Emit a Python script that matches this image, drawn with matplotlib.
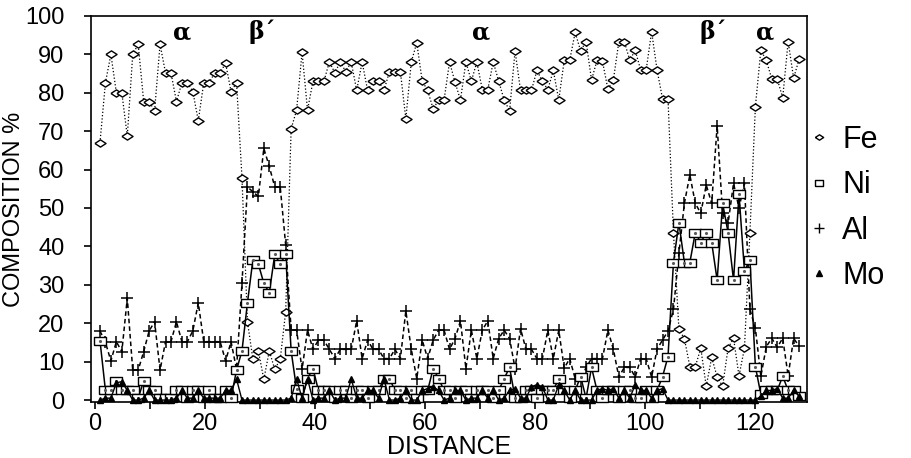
import numpy as np
import matplotlib.pyplot as plt
from matplotlib.lines import Line2D

plt.rcParams['font.family'] = ['Liberation Sans', 'DejaVu Sans']

# composition (%), one value per sample point
fe = [67, 82.6, 90, 80, 80, 68.7, 90, 92.6, 77.7, 77.7,
      75.3, 92.6, 85.2, 85.2, 77.7, 82.6, 82.6, 80.3, 72.7, 82.6,
      82.6, 85.2, 85.2, 87.7, 80.3, 82.6, 57.9, 20.4, 10.6, 12.8,
      5.4, 12.8, 8, 10.6, 23, 70.6, 75.5, 90.5, 75.5, 83,
      83, 83, 88, 85.2, 88, 85.5, 88, 80.6, 88, 80.6,
      83, 83, 80.6, 85.5, 85.5, 85.5, 73.2, 88, 93, 83,
      80.6, 75.8, 78.1, 78.1, 88, 82.8, 78.1, 88, 83, 88,
      80.8, 80.8, 88, 83, 78.1, 75.3, 90.9, 80.6, 80.8, 80.6,
      85.8, 83, 80.8, 85.8, 78.1, 88.4, 88.4, 95.7, 90.9, 93.3,
      83.3, 88.4, 88.2, 80.9, 83.3, 93.3, 93.3, 88.5, 91, 85.9,
      85.9, 95.9, 85.9, 78.4, 78.4, 43.6, 18.4, 16, 8.7, 8.7,
      13.5, 3.6, 11.1, 6, 3.6, 13.5, 16.1, 6.3, 13.5, 43.6,
      76.4, 91.1, 88.4, 83.6, 83.6, 78.7, 93.3, 83.8, 88.7]

ni = [15.5, 2.5, 2.5, 5, 2.5, 2.5, 2.5, 0.5, 5, 2.5,
      2.5, 0.5, 0.5, 0.5, 2.5, 2.5, 0.5, 2.5, 2.5, 0.5,
      2.5, 0.5, 0.5, 2.5, 0.5, 7.8, 12.8, 25.3, 36.5, 35.4,
      30.4, 27.9, 37.9, 35.4, 37.9, 12.8, 2.8, 0.5, 5.6, 8.2,
      2.5, 2.5, 2.5, 0.5, 2.5, 2.5, 0.5, 2.5, 2.5, 0.5,
      2.5, 2.5, 5.6, 5.6, 2.5, 2.5, 0.5, 2.5, 0.5, 2.5,
      2.5, 8.2, 5.6, 2.5, 2.5, 0.5, 2.5, 2.5, 0.5, 2.5,
      2.5, 2.5, 0.5, 2.5, 5.6, 8.5, 0.5, 0.5, 2.5, 2.5,
      0.5, 2.5, 2.5, 2.5, 5.6, 2.5, 0.5, 2.5, 6.1, 0.5,
      8.5, 2.5, 0.5, 2.5, 2.5, 0.5, 2.5, 2.5, 0.5, 0.5,
      2.5, 0.5, 2.5, 6.1, 11.3, 35.8, 46.2, 35.8, 35.8, 43.6,
      41, 43.6, 41, 31.2, 51.2, 43.6, 31.2, 53.6, 33.6, 36.5,
      8.7, 1.5, 2.5, 2.5, 2.5, 6.2, 2.5, 2.5, 1]

al = [18, 15, 10.2, 15.2, 12.6, 26.5, 7.8, 7.8, 12.6, 18,
      20.4, 7.8, 15.2, 15.2, 20.4, 15.2, 15.2, 18, 25.3, 15.2,
      15.2, 15.2, 15.2, 10.2, 15.2, 8, 30.4, 55.5, 54.2, 53,
      65.5, 60.8, 55.5, 55.5, 40.4, 18.2, 18.2, 8, 18.2, 13.2,
      15.6, 15.6, 13.2, 10.8, 13.2, 13.2, 13.2, 20.6, 10.8, 15.6,
      13.2, 13.2, 10.8, 10.8, 13.2, 10.8, 23.2, 13.2, 5.6, 15.6,
      10.8, 15.6, 18.2, 18.2, 13.2, 16, 20.6, 8.2, 18.2, 10.8,
      18.2, 20.6, 10.8, 16, 18.2, 16, 8.2, 18.6, 13.2, 13.2,
      10.8, 10.8, 18.2, 10.8, 18.2, 8.3, 10.8, 5.6, 5, 8.5,
      10.8, 10.8, 10.8, 18.2, 13.2, 6, 8.5, 8.5, 6, 10.8,
      10.8, 6, 13.3, 15.6, 18, 23.6, 38.2, 51.2, 58.6, 51.2,
      48.6, 56, 51.2, 71.4, 48.6, 46, 56.4, 50, 56.4, 23.6,
      18.7, 6.2, 13.9, 16.1, 13.7, 16.1, 6.3, 16.1, 14]

mo = [0, 0.5, 0.5, 4.5, 4.8, 2.5, 0, 0, 0.5, 2.5,
      0, 0, 0, 0, 0.5, 2.5, 0.5, 0.5, 2.5, 0.5,
      0.5, 0.5, 0.5, 2.5, 2.5, 5.5, 0, 0, 0, 0,
      0, 0, 0, 0, 0, 0.5, 5.5, 0.5, 5.5, 0,
      0.5, 0.5, 2.5, 0, 0.5, 0.5, 5.5, 0.5, 0.5, 2.5,
      2.5, 0.5, 5.5, 0, 0, 0.5, 2.5, 0, 0, 2.5,
      3, 3.5, 2.5, 0, 0.5, 2.5, 2.5, 0, 0.5, 0.5,
      2.5, 0.5, 2.5, 0, 0.5, 2.5, 3, 0.5, 0.5, 3.5,
      4, 3.5, 0, 0, 4, 2.5, 0, 2.5, 0, 0,
      0, 2.5, 3, 2.5, 3, 0.5, 2.5, 0.5, 4, 2.5,
      2.5, 0.5, 2.5, 3, 0, 0, 0, 0, 0, 0,
      0, 0, 0, 0, 0, 0, 0, 0, 0, 0,
      0, 1, 2.5, 2.5, 3, 0.5, 0.5, 2.5, 1]

# sample positions along the scan
distance = np.linspace(0.9, 128.0, len(fe))

phase_x = [15.8, 30.4, 70.2, 112.4, 121.8]
phase_labels = ['α', 'β´', 'α', 'β´', 'α']

diamond = [(-1, 0), (0, 0.65), (1, 0), (0, -0.65), (-1, 0)]
box = [(-1, -0.75), (1, -0.75), (1, 0.75), (-1, 0.75), (-1, -0.75)]

fig = plt.figure(figsize=(9.11, 4.58), dpi=100)
ax = fig.add_axes([0.0999, 0.1223, 0.786, 0.843])

ax.plot(distance, al, ls='--', dashes=(3, 2), lw=1.1, color='k', marker='+',
        ms=9, mew=1.1, clip_on=False, zorder=2)
ax.plot(distance, fe, ls=':', lw=0.9, color='k', marker=diamond, ms=8,
        mfc='white', mec='k', mew=1.0, clip_on=False, zorder=3)
ax.plot(distance, ni, ls='-', lw=1.1, color='k', marker=box, ms=8,
        mfc='white', mec='k', mew=1.0, clip_on=False, zorder=4)
ax.plot(distance, ni, ls='none', marker='.', ms=2.5, color='0.35', zorder=5)
ax.plot(distance, mo, ls='-', lw=1.0, color='k', marker='^', ms=5,
        clip_on=False, zorder=6)

for x, lab in zip(phase_x, phase_labels):
    ax.text(x, 95.8, lab, ha='center', va='center', fontsize=17,
            fontweight='bold', family='DejaVu Serif')

ax.set_xlim(-0.73, 129.45)
ax.set_ylim(-0.5, 100)
ax.set_xticks(np.arange(0, 121, 20))
ax.set_xticks(np.arange(10, 130, 20), minor=True)
ax.set_yticks(np.arange(0, 101, 10))
ax.tick_params(axis='both', which='both', direction='out', length=5,
               width=1.2, labelsize=17)
ax.tick_params(axis='y', pad=14)
ax.tick_params(axis='x', pad=3)
for s in ax.spines.values():
    s.set_linewidth(1.2)

ax.set_xlabel('DISTANCE', fontsize=18, labelpad=0)
ax.set_ylabel('COMPOSITION %', fontsize=17, labelpad=0)

handles = [
    Line2D([], [], ls='none', marker=diamond, ms=6, mfc='white', mec='k'),
    Line2D([], [], ls='none', marker=box, ms=6, mfc='white', mec='k'),
    Line2D([], [], ls='none', marker='+', ms=7, mec='k'),
    Line2D([], [], ls='none', marker='^', ms=5, color='k'),
]
fig.legend(handles, ['Fe', 'Ni', 'Al', 'Mo'], loc='center left',
           bbox_to_anchor=(0.891, 0.546), frameon=False, fontsize=22,
           handlelength=0.5, handletextpad=0.5, labelspacing=0.5,
           borderpad=0, borderaxespad=0)

fig.savefig('out.png', dpi=100)
